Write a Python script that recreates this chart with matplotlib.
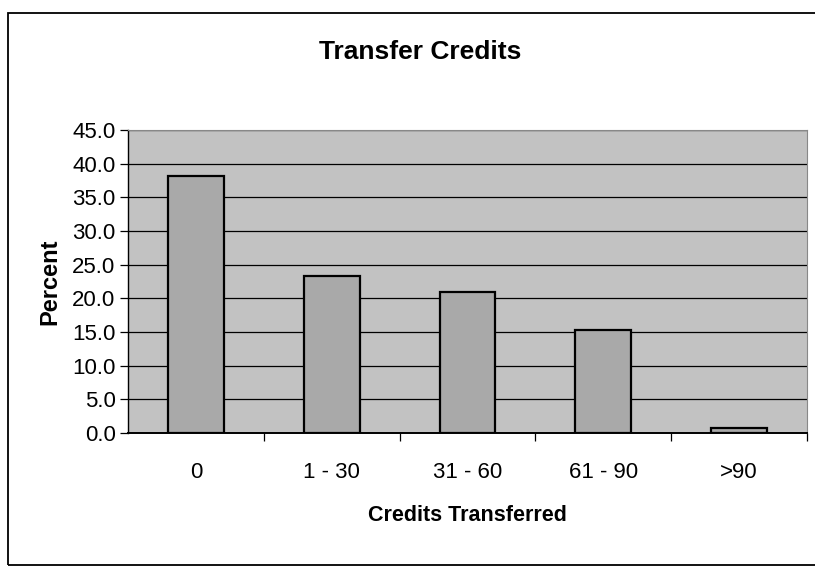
import matplotlib
matplotlib.use("Agg")
import matplotlib.pyplot as plt
from matplotlib.patches import Rectangle
from matplotlib.ticker import FixedLocator

categories = ["0", "1 - 30", "31 - 60", "61 - 90", ">90"]
percent = [38.2, 23.3, 21.0, 15.3, 0.7]
y_ticks = [0, 5, 10, 15, 20, 25, 30, 35, 40, 45]

plt.rcParams['font.family'] = ['Liberation Sans', 'DejaVu Sans']

fig = plt.figure(figsize=(8.15, 5.66), dpi=100)
fig.patch.set_facecolor("white")

ax = fig.add_axes([128/815, 1-433/566, (807-128)/815, (433-130)/566])
ax.set_facecolor("#c2c2c2")

x = list(range(len(categories)))
ax.bar(x, percent, width=0.41, color="#a9a9a9", edgecolor="black", linewidth=1.6, zorder=3)

ax.set_xlim(-0.5, len(categories) - 0.5)
ax.set_ylim(0, 45)
ax.set_yticks(y_ticks)
ax.set_yticklabels([f"{v:.1f}" for v in y_ticks])
ax.yaxis.grid(True, color="black", linewidth=0.9, zorder=1)
ax.set_axisbelow(True)

ax.set_xticks(x)
ax.set_xticklabels(categories)
ax.xaxis.set_minor_locator(FixedLocator([i + 0.5 for i in range(len(categories))]))
ax.tick_params(axis="x", which="major", length=0, pad=21, labelsize=16)
ax.tick_params(axis="x", which="minor", length=6, width=0.9, direction="out")
ax.tick_params(axis="y", which="major", length=6, width=0.9, direction="out", labelsize=16, pad=3)

for s in ["top", "right"]:
    ax.spines[s].set_color("#888888")
    ax.spines[s].set_linewidth(0.8)
ax.spines["left"].set_linewidth(1.0)
ax.spines["bottom"].set_linewidth(1.4)

ax.set_ylabel("Percent", fontsize=17, fontweight="bold", labelpad=8)
ax.set_xlabel("Credits Transferred", fontsize=15.5, fontweight="bold", labelpad=16)

fig.text(420/815, 1-52/566, "Transfer Credits", ha="center", va="center",
         fontsize=19, fontweight="bold")

fig.add_artist(Rectangle((8/815, 1-565/566), 1.2, (565-13)/566,
                         transform=fig.transFigure, fill=False,
                         edgecolor="black", linewidth=1.3))

fig.savefig("out.png", dpi=100)
